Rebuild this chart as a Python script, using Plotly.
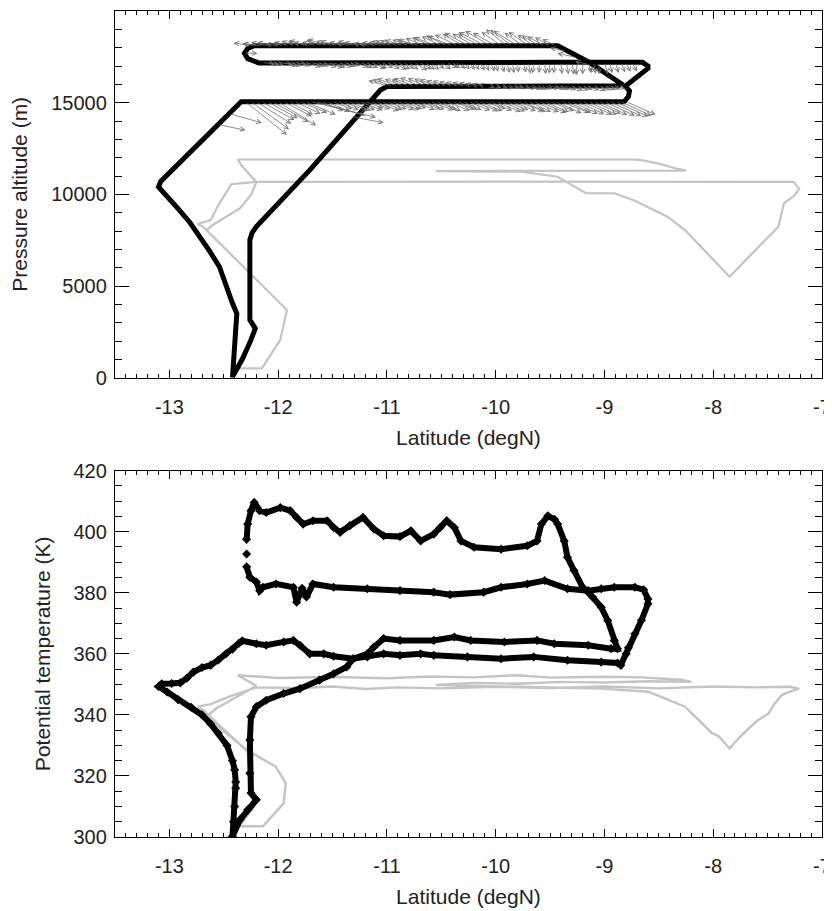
import plotly.graph_objects as go
from plotly.subplots import make_subplots

# --- flight A (black): pressure altitude along the track
alt_lat_a = [-12.42, -12.41, -12.39, -12.38, -12.42, -12.48, -12.54, -12.63, -12.72, -12.81, -12.91, -13.01, -13.10, -13.08,
             -12.72, -12.34,
             -11.00, -10.00, -9.00, -8.82, -8.78, -8.77, -8.81, -8.70, -8.60, -8.60, -8.65,
             -9.50, -10.50, -11.50, -12.18, -12.28, -12.31, -12.28, -12.22,
             -11.00, -10.00, -9.43, -9.15, -8.85, -8.87,
             -9.50, -10.50, -11.00, -11.06, -11.71, -12.20, -12.24, -12.26, -12.26, -12.21, -12.25, -12.33, -12.42]
alt_m_a = [0, 1000, 2500, 3500, 4060, 5000, 6050, 6900, 7690, 8450, 9150, 9800, 10400, 10700,
           12780, 15050,
           15050, 15050, 15050, 15050, 15330, 15650, 15900, 16400, 16870, 17000, 17200,
           17200, 17210, 17200, 17170, 17400, 17690, 17960, 18110,
           18110, 18100, 18100, 17235, 16050, 15920,
           15920, 15910, 15880, 15690, 11320, 8240, 7900, 7510, 3150, 2690, 2060, 1000, 50]

# --- flight B (gray): pressure altitude
alt_lat_b = [-12.43, -12.22, -12.26, -12.26, -12.69, -12.74, -12.62, -12.54, -12.43, -12.20,
             -10.00, -8.00, -7.26, -7.21, -7.25, -7.35, -7.40, -7.85, -8.26, -8.42, -8.72, -8.91, -9.17, -9.30, -9.43, -9.77, -10.55,
             -8.25, -8.35, -8.51, -8.66, -8.75, -12.37,
             -12.34, -12.25, -12.20, -12.25, -12.35, -12.60, -12.66, -12.26, -11.92, -11.94, -11.98, -12.15, -12.35, -12.43]
alt_m_b = [50, 2400, 3200, 5700, 8240, 8380, 8600, 9510, 10550, 10680,
           10690, 10690, 10680, 10300, 9950, 9510, 8240, 5510, 8050, 8780, 9650, 10060, 10060, 10500, 10960, 11240, 11270,
           11290, 11420, 11690, 11870, 11900, 11900,
           11600, 10960, 10660, 9960, 9240, 8330, 8050, 5700, 3690, 3150, 2060, 510, 510, 50]

# --- wind vectors on the level legs of flight A: tail latitude, arrow offset (deg, m)
wind_leg_alt = [18110, 17200, 15910, 15050]

w18_lat = [-12.25, -12.20, -12.15, -12.10, -12.05, -12.00, -11.95, -11.90, -11.85, -11.80,
           -11.75, -11.70, -11.65, -11.60, -11.55, -11.50, -11.45, -11.40, -11.35, -11.30,
           -11.25, -11.20, -11.15, -11.10, -11.05, -11.00, -10.95, -10.90, -10.85, -10.80,
           -10.75, -10.70, -10.65, -10.60, -10.55, -10.50, -10.45, -10.40, -10.35, -10.30,
           -10.25, -10.20, -10.15, -10.10, -10.05, -10.00, -9.95, -9.90, -9.85, -9.80,
           -9.75, -9.70, -9.65, -9.60, -9.55, -9.50, -9.45]
w18_dlat = [-0.16, -0.13, -0.17, -0.15, -0.14, -0.12, -0.10, -0.14, -0.12, -0.11,
            -0.15, -0.16, -0.13, -0.14, -0.18, -0.15, -0.16, -0.13, -0.12, -0.15,
            -0.14, -0.11, -0.10, -0.13, -0.12, -0.14, -0.15, -0.16, -0.17, -0.15,
            -0.16, -0.19, -0.18, -0.17, -0.20, -0.18, -0.19, -0.22, -0.21, -0.19,
            -0.22, -0.20, -0.20, -0.24, -0.23, -0.21, -0.18, -0.19, -0.20, -0.22,
            -0.17, -0.18, -0.15, -0.16, -0.16, -0.14, -0.12]
w18_dalt = [150, 120, 100, 180, 200, 100, 150, 200, 250, 220,
            300, 180, 200, 300, 350, 250, 250, 200, 150, 250,
            200, 150, 100, 180, 200, 250, 250, 280, 300, 320,
            350, 300, 400, 450, 450, 500, 550, 500, 600, 650,
            700, 650, 650, 750, 800, 700, 750, 900, 850, 800,
            700, 750, 600, 550, 500, 450, 350]

w17_lat = [-12.15, -12.10, -12.05, -12.00, -11.95, -11.90, -11.85, -11.80, -11.75, -11.70,
           -11.65, -11.60, -11.55, -11.50, -11.45, -11.40, -11.35, -11.30, -11.25, -11.20,
           -11.15, -11.10, -11.05, -11.00, -10.95, -10.90, -10.85, -10.80, -10.75, -10.70,
           -10.65, -10.60, -10.55, -10.50, -10.45, -10.40, -10.35, -10.30, -10.25, -10.20,
           -10.15, -10.10, -10.05, -10.00, -9.95, -9.90, -9.85, -9.80, -9.75, -9.70,
           -9.65, -9.60, -9.55, -9.50, -9.45, -9.40, -9.35, -9.30, -9.25, -9.20,
           -9.15, -9.10, -9.05, -9.00, -8.95, -8.90, -8.85, -8.80, -8.75]
w17_dlat = [0.12, 0.11, 0.10, 0.13, 0.13, 0.12, 0.11, 0.10, 0.14, 0.13,
            0.12, 0.14, 0.15, 0.12, 0.13, 0.11, 0.10, 0.13, 0.12, 0.12,
            0.14, 0.10, 0.11, 0.12, 0.13, 0.11, 0.10, 0.09, 0.12, 0.11,
            0.09, 0.08, 0.08, 0.09, 0.10, 0.07, 0.07, 0.06, 0.06, 0.05,
            0.05, 0.04, 0.04, 0.02, 0.03, 0.03, 0.02, 0.01, 0.03, 0.02,
            -0.01, 0.00, 0.01, -0.01, -0.02, 0.01, 0.02, 0.02, -0.01, 0.00,
            0.03, 0.02, 0.00, 0.03, 0.02, 0.03, 0.04, 0.04, 0.05]
w17_dalt = [-100, -150, -150, -120, -200, -180, -100, -200, -250, -220,
            -200, -250, -300, -280, -250, -220, -200, -260, -300, -300,
            -350, -320, -300, -350, -400, -380, -350, -400, -450, -380,
            -400, -420, -350, -380, -300, -320, -350, -380, -400, -420,
            -450, -480, -500, -520, -550, -580, -600, -560, -550, -620,
            -600, -580, -650, -620, -600, -640, -650, -680, -700, -660,
            -600, -620, -650, -640, -600, -580, -550, -520, -500]

w16_lat = [-11.00, -10.95, -10.90, -10.85, -10.80, -10.75, -10.70, -10.65, -10.60, -10.55,
           -10.50, -10.45, -10.40, -10.35, -10.30, -10.25, -10.20, -10.15, -10.10, -10.05,
           -10.00, -9.95, -9.90, -9.85, -9.80, -9.75, -9.70, -9.65, -9.60, -9.55,
           -9.50, -9.45, -9.40, -9.35, -9.30, -9.25, -9.20, -9.15, -9.10, -9.05,
           -9.00, -8.95, -8.90]
w16_dlat = [-0.17, -0.18, -0.19, -0.17, -0.16, -0.19, -0.18, -0.16, -0.15, -0.15,
            -0.14, -0.13, -0.12, -0.11, -0.10, -0.09, -0.08, -0.07, -0.06, 0.04,
            0.05, 0.06, 0.07, 0.07, 0.06, 0.07, 0.08, 0.08, 0.07, 0.08,
            0.09, 0.09, 0.08, 0.09, 0.10, 0.10, 0.09, 0.10, 0.11, 0.10,
            0.10, 0.09, 0.09]
w16_dalt = [300, 350, 400, 380, 350, 420, 450, 420, 400, 350,
            300, 280, 250, 220, 200, 180, 150, 120, 100, -80,
            -100, -120, -150, -130, -100, -140, -150, -180, -200, -170,
            -150, -180, -200, -220, -250, -230, -200, -230, -250, -220,
            -200, -180, -150]

w15_lat = [-12.30, -12.25, -12.20, -12.15, -12.10, -12.05, -12.00, -11.95, -11.90, -11.85,
           -11.80, -11.75, -11.70, -11.65, -11.60, -11.55, -11.50, -11.45, -11.40, -11.35,
           -11.30, -11.25, -11.20, -11.15, -11.10, -11.05, -11.00, -10.95, -10.90, -10.85,
           -10.80, -10.75, -10.70, -10.65, -10.60, -10.55, -10.50, -10.45, -10.40, -10.35,
           -10.30, -10.25, -10.20, -10.15, -10.10, -10.05, -10.00, -9.95, -9.90, -9.85,
           -9.80, -9.75, -9.70, -9.65, -9.60, -9.55, -9.50, -9.45, -9.40, -9.35,
           -9.30, -9.25, -9.20, -9.15, -9.10, -9.05, -9.00, -8.95, -8.90, -8.85,
           -8.80]
w15_dlat = [0.38, 0.35, 0.32, 0.30, 0.28, 0.33, 0.35, 0.26, 0.22, 0.24,
            0.25, 0.28, 0.60, 0.45, 0.20, 0.21, 0.18, 0.19, 0.22, 0.20,
            0.19, 0.21, 0.17, 0.18, 0.21, 0.19, 0.18, 0.20, 0.20, 0.17,
            0.16, 0.19, 0.19, 0.18, 0.21, 0.19, 0.18, 0.21, 0.20, 0.18,
            0.17, 0.20, 0.22, 0.21, 0.19, 0.20, 0.23, 0.22, 0.20, 0.22,
            0.24, 0.21, 0.21, 0.23, 0.25, 0.22, 0.22, 0.24, 0.26, 0.23,
            0.24, 0.25, 0.27, 0.26, 0.25, 0.26, 0.28, 0.29, 0.30, 0.28,
            0.27]
w15_dalt = [-1800, -1500, -1200, -1000, -900, -1100, -1300, -800, -700, -650,
            -600, -700, -850, -750, -500, -550, -400, -450, -500, -480,
            -450, -470, -350, -400, -500, -430, -400, -420, -450, -380,
            -350, -430, -400, -420, -450, -430, -500, -480, -400, -420,
            -450, -470, -500, -500, -400, -480, -550, -520, -450, -500,
            -500, -560, -550, -560, -600, -560, -500, -620, -600, -600,
            -650, -680, -700, -700, -650, -720, -750, -780, -800, -760,
            -700]

# arrows off the level legs (descents, hairpin, climb)
wmisc_lat = [-9.35, -9.25, -9.15, -9.05, -12.31, -11.33, -12.55, -12.45]
wmisc_alt = [17800, 17450, 17100, 16750, 17700, 14250, 13800, 14400]
wmisc_dlat = [-0.15, -0.18, -0.12, -0.10, 0.12, 0.30, 0.25, 0.30]
wmisc_dalt = [200, 250, 150, 100, 0, -350, -300, -500]

# --- potential temperature along the same tracks
theta_lat_a = [-12.42, -12.41, -12.40, -12.39, -12.39, -12.40, -12.42, -12.47, -12.55, -12.62, -12.70, -12.80, -12.92, -13.02,
               -13.10, -13.07, -12.98, -12.90, -12.84, -12.78, -12.70, -12.62, -12.55, -12.48, -12.42, -12.36, -12.33,
               -12.20, -12.11, -11.95, -11.86, -11.80, -11.71, -11.58, -11.49, -11.31, -11.18, -11.03, -10.88, -10.69,
               -10.57, -10.26, -9.95, -9.65, -9.34, -9.03, -8.88, -8.85,
               -8.80, -8.78, -8.72, -8.66, -8.60, -8.60, -8.64, -8.72,
               -8.91, -9.03, -9.15, -9.34, -9.55, -9.71, -9.95, -10.11, -10.42, -10.57, -10.88, -11.18, -11.49, -11.68,
               -11.74, -11.78, -11.83, -11.86, -12.02, -12.14, -12.17, -12.20, -12.26, -12.29, None, -12.29, None,
               -12.29, -12.28, -12.25, -12.22,
               -12.17, -12.11, -11.98, -11.89, -11.83, -11.77, -11.68, -11.55, -11.49, -11.43, -11.34, -11.22, -11.12,
               -11.03, -10.88, -10.78, -10.69, -10.57, -10.51, -10.45, -10.38, -10.32, -10.20, -9.95, -9.71, -9.62,
               -9.58, -9.52, -9.46, -9.43,
               -9.37, -9.34, -9.28, -9.20, -9.11, -9.03, -8.97, -8.91, -8.88,
               -8.94, -9.15, -9.46, -9.62, -9.92, -10.23, -10.38, -10.57, -10.88, -11.03,
               -11.12, -11.18, -11.31, -11.37, -11.49, -11.62, -11.80, -11.95, -12.11, -12.20, -12.25, -12.26, -12.26,
               -12.25, -12.20, -12.28, -12.35, -12.42]
theta_k_a = [300.0, 305, 310, 316, 318, 322, 325, 330, 334, 337, 340, 342.5, 345, 347.5,
             349.3, 350.2, 350.3, 350.5, 352, 354, 355.5, 356.3, 358, 360, 361.5, 363.5, 364.3,
             363.3, 362.8, 363.9, 364.4, 362.8, 360, 360, 359.2, 358.4, 359, 360, 359.5, 360,
             359.5, 359, 358.4, 359, 357.9, 357.3, 357, 356.3,
             360, 362, 366.6, 371, 376.4, 378, 381, 381.8,
             381.8, 381.3, 380.7, 381.3, 384, 382.9, 381.8, 380.2, 379.4, 380.2, 380.7, 381.3, 381.8, 382.9,
             378.6, 381.5, 376.9, 381.8, 382.9, 381.8, 380.7, 383.5, 385.1, 388.5, None, 392.7, None,
             397.5, 402.5, 406.9, 409.6,
             406.9, 406.3, 407.9, 406.9, 404.7, 402.5, 403.6, 403.6, 401.4, 399.8, 402, 404.7, 400.9,
             398.7, 398.4, 400.3, 397, 399.2, 401.4, 403.6, 401.4, 397, 394.9, 394.3, 395.4, 397,
             402.5, 405.2, 404.1, 402.5,
             397, 391.6, 387.3, 381.8, 378.6, 375.3, 370.9, 364.4, 361.7,
             361.7, 362.8, 363.3, 364.4, 363.9, 364.4, 365.5, 364.4, 364.4, 365,
             362.2, 360, 358.4, 355.7, 353.5, 351.4, 348.6, 347, 344.8, 342.7, 339.4, 331.8, 320.9,
             314.4, 312.2, 308.9, 305.7, 300.2]

theta_lat_b = [-12.42, -12.30, -12.22, -12.26, -12.28, -12.69, -12.74, -12.62, -12.45, -12.20,
               -11.80, -11.50, -11.20, -10.90, -10.50, -10.00, -9.50, -9.00, -8.50, -8.00, -7.60, -7.30, -7.21,
               -7.30, -7.37, -7.45, -7.49, -7.60, -7.75, -7.85, -7.95, -8.01, -8.15, -8.26, -8.45, -8.60, -9.03,
               -9.50, -10.00, -10.55,
               -10.20, -9.80, -9.40, -9.00, -8.60, -8.20, -8.30, -8.50, -8.66,
               -9.00, -9.50, -9.80, -10.20, -10.60, -11.00, -11.50, -12.00, -12.37,
               -12.30, -12.20, -12.35, -12.57, -12.66, -12.29, -12.02, -11.93, -11.95, -12.14, -12.40, -12.42]
theta_k_b = [300.5, 306, 310, 318, 328, 341.5, 342.7, 343.5, 346, 349.0,
             348.8, 349.3, 348.5, 349.0, 348.7, 349.2, 348.8, 349.3, 348.7, 349.3, 349.0, 349.2, 348.6,
             347.5, 346.5, 343.0, 340.5, 338.0, 333.0, 329.0, 333.0, 334.0, 339.0, 342.7, 345.5, 347.6, 348.6,
             349.0, 349.4, 349.8,
             350.5, 350.2, 350.8, 350.6, 351.0, 350.8, 351.5, 352.0, 352.3,
             352.5, 352.2, 353.0, 352.3, 352.6, 352.0, 352.4, 352.1, 353.0,
             351.5, 349.5, 346.5, 342.1, 339.4, 328.5, 323.0, 317.6, 311.0, 303.5, 303.5, 300.5]

lat_ticks = [-13, -12, -11, -10, -9, -8, -7]
lat_tick_labels = ["-13", "-12", "-11", "-10", "-9", "-8", "-7"]
alt_ticks = [0, 5000, 10000, 15000, 20000]
theta_ticks = [300, 320, 340, 360, 380, 400, 420]

FONT = "Liberation Sans, Arial, Helvetica, sans-serif"
BLACK = "#000000"
GRAY = "#c4c4c4"
ARROW = "#707070"


def style_panel(fig, row, yrange, yticks, yminor, ytitle):
    axis_common = dict(ticks="inside", tickcolor=BLACK, tickwidth=1, showline=True, linecolor=BLACK,
                       linewidth=1.3, mirror="allticks", showgrid=False, zeroline=False, automargin=False,
                       tickfont=dict(family=FONT, size=20, color="#222"))
    fig.update_xaxes(row=row, col=1, range=[-13.5, -7], tickmode="array", tickvals=lat_ticks,
                     ticktext=lat_tick_labels, ticklen=8, ticklabelstandoff=11,
                     minor=dict(tickmode="linear", tick0=0, dtick=0.1, ticks="inside", ticklen=4,
                                tickcolor=BLACK, tickwidth=1, showgrid=False),
                     title=dict(text="Latitude (degN)", font=dict(family=FONT, size=21, color="#222"), standoff=13),
                     **axis_common)
    fig.update_yaxes(row=row, col=1, range=yrange, tickmode="array", tickvals=yticks, tickformat="d",
                     ticklen=14, ticklabelstandoff=3,
                     minor=dict(tickmode="linear", tick0=0, dtick=yminor, ticks="inside", ticklen=7,
                                tickcolor=BLACK, tickwidth=1, showgrid=False),
                     title=dict(text=ytitle, font=dict(family=FONT, size=21, color="#222"), standoff=17),
                     **axis_common)


def add_arrow(fig, lat, alt, dlat, dalt):
    fig.add_annotation(x=lat + dlat, y=alt + dalt, ax=lat, ay=alt,
                       xref="x", yref="y", axref="x", ayref="y",
                       text="", showarrow=True, arrowhead=5, arrowsize=1.1, arrowwidth=0.8,
                       arrowcolor=ARROW, standoff=0, startstandoff=0)


fig = make_subplots(rows=2, cols=1)

fig.add_trace(go.Scatter(x=alt_lat_b, y=alt_m_b, mode="lines", line=dict(color=GRAY, width=2.2)), row=1, col=1)
fig.add_trace(go.Scatter(x=alt_lat_a, y=alt_m_a, mode="lines", line=dict(color=BLACK, width=5)), row=1, col=1)

fig.add_trace(go.Scatter(x=theta_lat_b, y=theta_k_b, mode="lines", line=dict(color=GRAY, width=2.4)), row=2, col=1)
fig.add_trace(go.Scatter(x=theta_lat_a, y=theta_k_a, mode="lines+markers",
                         line=dict(color=BLACK, width=6),
                         marker=dict(symbol="diamond", size=7, color=BLACK)), row=2, col=1)

# wind arrows in data coordinates of the top panel
legs = [(w18_lat, w18_dlat, w18_dalt), (w17_lat, w17_dlat, w17_dalt),
        (w16_lat, w16_dlat, w16_dalt), (w15_lat, w15_dlat, w15_dalt)]
for base_alt, (lats, dlats, dalts) in zip(wind_leg_alt, legs):
    for lat, dlat, dalt in zip(lats, dlats, dalts):
        add_arrow(fig, lat, base_alt, dlat, dalt)
for lat, alt, dlat, dalt in zip(wmisc_lat, wmisc_alt, wmisc_dlat, wmisc_dalt):
    add_arrow(fig, lat, alt, dlat, dalt)

style_panel(fig, 1, [0, 20000], alt_ticks, 1000, "Pressure altitude (m)")
style_panel(fig, 2, [300, 420], theta_ticks, 5, "Potential temperature (K)")

# page body adds 8 px on the left/top, so the figure is 8 px smaller than the window
fig.update_layout(
    width=824, height=903,
    margin=dict(l=107, r=10, t=3, b=74),
    paper_bgcolor="white", plot_bgcolor="white",
    showlegend=False,
    font=dict(family=FONT, size=20, color="#222"),
    yaxis=dict(domain=[0.5561, 1.0]),
    yaxis2=dict(domain=[0.0, 0.4435]),
    xaxis=dict(domain=[0, 1]),
    xaxis2=dict(domain=[0, 1]),
)

fig.write_html("out.html")
